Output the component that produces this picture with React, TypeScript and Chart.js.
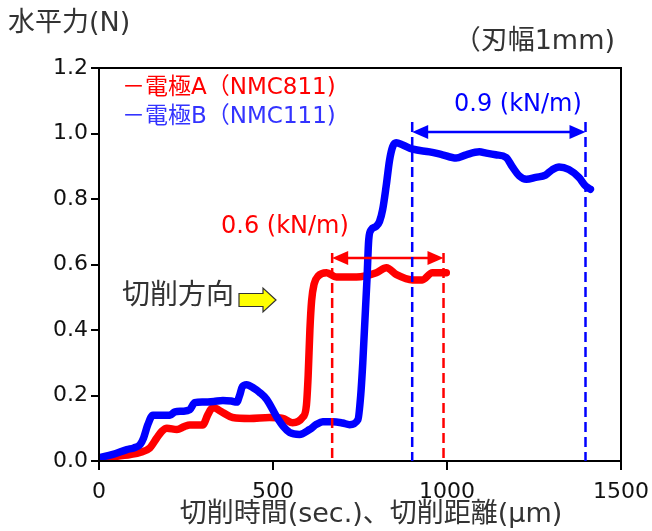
import React, { useEffect, useRef } from "react";
import { Chart, registerables } from "chart.js";

Chart.register(...registerables);

// ---- data ----
const redX = [0, 30, 52, 90, 118, 146, 166, 180, 195, 224, 245, 261, 298, 313, 327, 356, 384, 433, 490, 528, 556, 585, 596, 601, 606, 611, 618, 630, 654, 682, 740, 797, 826, 855, 901, 929, 958, 998];
const redY = [0, 0.008, 0.014, 0.02, 0.026, 0.04, 0.07, 0.09, 0.1, 0.096, 0.105, 0.11, 0.11, 0.142, 0.163, 0.148, 0.133, 0.13, 0.133, 0.13, 0.117, 0.133, 0.17, 0.26, 0.4, 0.49, 0.54, 0.565, 0.575, 0.562, 0.562, 0.575, 0.59, 0.569, 0.553, 0.553, 0.575, 0.575];

const blueX = [0, 40, 80, 100, 118, 128, 140, 155, 180, 204, 218, 240, 261, 275, 300, 330, 356, 380, 396, 404, 412, 424, 445, 462, 482, 510, 530, 548, 576, 605, 625, 643, 672, 700, 720, 744, 752, 758, 770, 775, 782, 796, 806, 815, 825, 835, 844, 854, 873, 902, 950, 987, 1026, 1055, 1093, 1113, 1140, 1170, 1188, 1208, 1228, 1255, 1283, 1302, 1322, 1350, 1379, 1398, 1412];
const blueY = [0.01, 0.02, 0.035, 0.04, 0.05, 0.07, 0.11, 0.14, 0.14, 0.14, 0.15, 0.152, 0.157, 0.178, 0.18, 0.182, 0.185, 0.183, 0.18, 0.2, 0.227, 0.233, 0.222, 0.209, 0.188, 0.136, 0.105, 0.087, 0.081, 0.096, 0.112, 0.12, 0.12, 0.116, 0.111, 0.126, 0.2, 0.3, 0.553, 0.675, 0.706, 0.716, 0.731, 0.767, 0.838, 0.919, 0.96, 0.972, 0.965, 0.952, 0.944, 0.935, 0.925, 0.935, 0.944, 0.94, 0.935, 0.927, 0.898, 0.87, 0.86, 0.866, 0.873, 0.889, 0.898, 0.89, 0.866, 0.84, 0.83];

const seriesNames = ["－電極A（NMC811)", "－電極B（NMC111)"];
const xTickStep = 500;
const yTickStep = 0.2;
const xRange = [0, 1500];
const yRange = [0, 1.2];

const yTitle = "水平力(N)";
const xTitle = "切削時間(sec.)、切削距離(μm)";
const noteTitle = "（刃幅1mm)";
const redSpanX = [670, 990];
const redSpanLabel = "0.6 (kN/m)";
const blueSpanX = [900, 1398];
const blueSpanLabel = "0.9 (kN/m)";
const directionLabel = "切削方向";

const RED = "#ff0000";
const BLUE = "#0000ff";
const TEXT = "#333333";
const FONT = '"DejaVu Sans", "Noto Sans CJK JP", sans-serif';

const toPts = (xs: number[], ys: number[]) => xs.map((x, i) => ({ x, y: ys[i] }));

const annotPlugin = {
  id: "annot",
  afterDatasetsDraw(chart: any) {
    const { ctx, chartArea: a, scales } = chart;
    const x = scales.x;
    const y = scales.y;
    ctx.save();

    // frame
    ctx.strokeStyle = "#000";
    ctx.lineWidth = 2;
    ctx.strokeRect(a.left, a.top, a.right - a.left, a.bottom - a.top);

    const dashed = (xv: number, topPx: number, color: string) => {
      const px = x.getPixelForValue(xv);
      ctx.save();
      ctx.setLineDash([10, 5]);
      ctx.lineWidth = 2.5;
      ctx.strokeStyle = color;
      ctx.beginPath();
      ctx.moveTo(px, topPx);
      ctx.lineTo(px, y.getPixelForValue(0));
      ctx.stroke();
      ctx.restore();
    };
    const arrow = (x0: number, x1: number, py: number, color: string) => {
      const p0 = x.getPixelForValue(x0);
      const p1 = x.getPixelForValue(x1);
      const hl = 16, hw = 7;
      ctx.save();
      ctx.strokeStyle = color;
      ctx.fillStyle = color;
      ctx.lineWidth = 2.5;
      ctx.beginPath();
      ctx.moveTo(p0 + hl - 2, py);
      ctx.lineTo(p1 - hl + 2, py);
      ctx.stroke();
      ctx.beginPath();
      ctx.moveTo(p0, py);
      ctx.lineTo(p0 + hl, py - hw);
      ctx.lineTo(p0 + hl, py + hw);
      ctx.closePath();
      ctx.fill();
      ctx.beginPath();
      ctx.moveTo(p1, py);
      ctx.lineTo(p1 - hl, py - hw);
      ctx.lineTo(p1 - hl, py + hw);
      ctx.closePath();
      ctx.fill();
      ctx.restore();
    };

    // red span
    const redArrowY = a.top + 190;
    dashed(redSpanX[0], redArrowY - 5, RED);
    dashed(redSpanX[1], redArrowY - 5, RED);
    arrow(redSpanX[0], redSpanX[1], redArrowY, RED);
    // blue span
    const blueArrowY = a.top + 64;
    dashed(blueSpanX[0], blueArrowY - 10, BLUE);
    dashed(blueSpanX[1], blueArrowY - 10, BLUE);
    arrow(blueSpanX[0], blueSpanX[1], blueArrowY, BLUE);

    ctx.textBaseline = "middle";
    ctx.textAlign = "left";
    ctx.font = `24px ${FONT}`;
    ctx.fillStyle = RED;
    ctx.fillText(redSpanLabel, a.left + 122, a.top + 159);
    ctx.fillStyle = BLUE;
    ctx.fillText(blueSpanLabel, a.left + 355, a.top + 37);

    // legend
    ctx.font = `23px ${FONT}`;
    ctx.fillStyle = RED;
    ctx.fillText(seriesNames[0], a.left + 23, a.top + 20);
    ctx.fillStyle = "#3333ff";
    ctx.fillText(seriesNames[1], a.left + 23, a.top + 49);

    // direction label + yellow arrow
    ctx.font = `28px ${FONT}`;
    ctx.fillStyle = TEXT;
    ctx.fillText(directionLabel, a.left + 23, a.top + 229);
    const ax = a.left + 140, ay = a.top + 232;
    ctx.beginPath();
    ctx.moveTo(ax, ay - 6.5);
    ctx.lineTo(ax + 24, ay - 6.5);
    ctx.lineTo(ax + 24, ay - 12);
    ctx.lineTo(ax + 37, ay);
    ctx.lineTo(ax + 24, ay + 12);
    ctx.lineTo(ax + 24, ay + 6.5);
    ctx.lineTo(ax, ay + 6.5);
    ctx.closePath();
    ctx.fillStyle = "#ffff00";
    ctx.fill();
    ctx.strokeStyle = "#333";
    ctx.lineWidth = 1.2;
    ctx.stroke();

    // titles outside plot
    ctx.font = `27px ${FONT}`;
    ctx.fillStyle = TEXT;
    ctx.textAlign = "left";
    ctx.fillText(yTitle, 8, 24);
    ctx.textAlign = "right";
    ctx.fillText(noteTitle, 615, 42);
    ctx.textAlign = "center";
    ctx.fillText(xTitle, 371, 515);

    ctx.restore();
  },
};

export default function App() {
  const ref = useRef<HTMLCanvasElement>(null);
  useEffect(() => {
    if (!ref.current) return;
    const chart = new Chart(ref.current, {
      type: "line",
      data: {
        datasets: [
          {
            label: seriesNames[1],
            data: toPts(blueX, blueY),
            borderColor: BLUE,
            borderWidth: 7.5,
            pointRadius: 0,
            cubicInterpolationMode: "monotone",
            borderCapStyle: "round",
            borderJoinStyle: "round",
            fill: false,
            order: 0,
          },
          {
            label: seriesNames[0],
            data: toPts(redX, redY),
            borderColor: RED,
            borderWidth: 7.5,
            pointRadius: 0,
            cubicInterpolationMode: "monotone",
            borderCapStyle: "round",
            borderJoinStyle: "round",
            fill: false,
            order: 1,
          },
        ],
      },
      options: {
        animation: false,
        responsive: false,
        devicePixelRatio: 1,
        parsing: false as any,
        layout: { padding: { left: 0, top: 68, right: 31, bottom: 0 } },
        plugins: { legend: { display: false }, tooltip: { enabled: false } },
        scales: {
          x: {
            type: "linear",
            min: xRange[0],
            max: xRange[1],
            border: { display: false },
            grid: { display: true, drawOnChartArea: false, drawTicks: true, tickLength: 9, color: "#000", lineWidth: 2 },
            ticks: { stepSize: xTickStep, color: "#111", font: { size: 22, family: FONT }, padding: 9, maxRotation: 0, callback: (v: any) => String(v) },
            afterFit: (s: any) => { s.height = 70; s.paddingLeft = 0; s.paddingRight = 0; },
          },
          y: {
            type: "linear",
            min: yRange[0],
            max: yRange[1],
            border: { display: false },
            grid: { display: true, drawOnChartArea: false, drawTicks: true, tickLength: 8, color: "#000", lineWidth: 2 },
            ticks: { stepSize: yTickStep, color: "#111", font: { size: 22, family: FONT }, padding: 3, callback: (v: any) => Number(v).toFixed(1) },
            afterFit: (s: any) => { s.width = 99; },
          },
        },
      },
      plugins: [annotPlugin],
    });
    return () => chart.destroy();
  }, []);
  return (
    <div style={{ position: "absolute", left: 0, top: 0, width: 652, height: 531, background: "#fff" }}>
      <canvas ref={ref} width={652} height={531} style={{ display: "block" }} />
    </div>
  );
}
